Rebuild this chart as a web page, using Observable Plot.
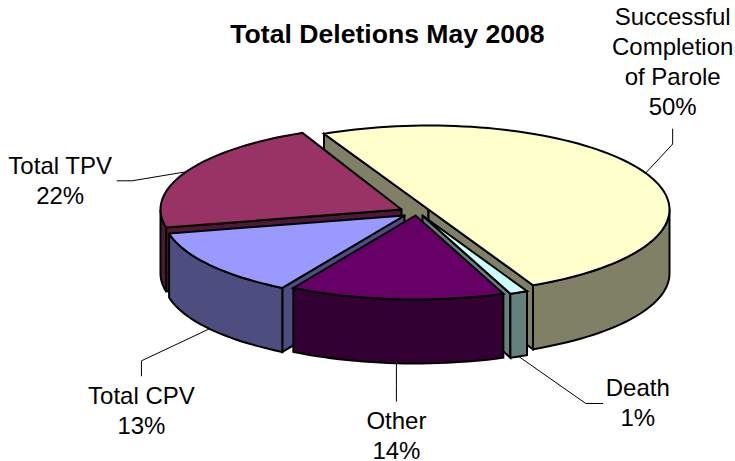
<!DOCTYPE html>
<html>
<head>
<meta charset="utf-8">
<style>html,body{margin:0;padding:0;background:#fff}svg{display:block}</style>
<script src="https://cdn.jsdelivr.net/npm/d3@7"></script>
<script src="https://cdn.jsdelivr.net/npm/@observablehq/plot@0.6"></script>
</head>
<body>
<div id="chart"></div>
<script>
// Data
const categories = ["Successful Completion of Parole", "Death", "Other", "Total CPV", "Total TPV"];
const labelLines = [["Successful", "Completion", "of Parole"], ["Death"], ["Other"], ["Total CPV"], ["Total TPV"]];
const percentLabels = ["50%", "1%", "14%", "13%", "22%"];
const sweepValues = [50, 1.2, 14.4, 13.1, 21.7];          // slice sizes
const topColors = ["#FFFFCC", "#CCFFFF", "#660066", "#9999FF", "#993366"];
const sideColors = ["#808066", "#668080", "#330033", "#4D4D80", "#4D1A33"];

// Layout of the 3-D pie
const rx = 241, ry = 84, depth = 64, startAngle = -115.7;
const apexX = [428, 422, 415, 404, 401];
const apexY = [209, 215, 215, 215, 209];
const elbow = [[27, -29], [67, 47], [0, 22], [-68, 32], [-54, 9]];
const leaderEnd = [[27, -44], [84, 47], [0, 38], [-68, 47], [-69, 9]];
const textAt = [[27, -58], [119, 69], [0, 96], [-68, 105], [-126, 32]];
const drawOrder = [0, 4, 3, 1, 2];

const rad = d => d * Math.PI / 180;
let acc = startAngle;
const slices = categories.map((name, i) => {
  const t0 = acc, t1 = acc + sweepValues[i] * 3.6;
  acc = t1;
  return {i, name, t0, t1, cx: apexX[i], cy: apexY[i]};
});
const rim = (s, t, dz = 0) => ({x: s.cx + rx * Math.cos(rad(t)), y: s.cy + ry * Math.sin(rad(t)) + dz});

const polys = [];
let pid = 0;
function addPoly(points, fill) {
  const z = pid++;
  [...points, points[0]].forEach(p => polys.push({x: p.x, y: p.y, z, fill}));
}
function arcPts(s, a, b, dz = 0) {
  const n = Math.max(2, Math.ceil(Math.abs(b - a) / 2));
  return d3.range(n + 1).map(k => rim(s, a + (b - a) * k / n, dz));
}
function radialFace(s, t, fill) {
  const a = {x: s.cx, y: s.cy}, r = rim(s, t);
  addPoly([a, r, {x: r.x, y: r.y + depth}, {x: a.x, y: a.y + depth}], fill);
}
// the circle's front half runs through angles 0..180 (mod 360)
function frontRange(s) {
  for (const off of [0, 360, -360]) {
    const a = Math.max(s.t0, off), b = Math.min(s.t1, off + 180);
    if (b > a) return [a, b];
  }
  return null;
}
for (const idx of drawOrder) {
  const s = slices[idx], side = sideColors[idx];
  if (Math.cos(rad(s.t0)) < 0) radialFace(s, s.t0, side);
  if (Math.cos(rad(s.t1)) > 0) radialFace(s, s.t1, side);
  const fr = frontRange(s);
  if (fr) addPoly([...arcPts(s, fr[0], fr[1]), ...arcPts(s, fr[1], fr[0], depth)], side);
  addPoly([{x: s.cx, y: s.cy}, ...arcPts(s, s.t0, s.t1)], topColors[idx]);
}

// Leader lines and labels start from each slice's rim point at its middle angle
const leaders = [], labels = [];
slices.forEach((s, i) => {
  const mid = (s.t0 + s.t1) / 2;
  const front = Math.sin(rad(mid)) > 0;
  const a = rim(s, mid, front ? depth : 0);
  [a, {x: a.x + elbow[i][0], y: a.y + elbow[i][1]}, {x: a.x + leaderEnd[i][0], y: a.y + leaderEnd[i][1]}]
    .forEach(p => leaders.push({x: p.x, y: p.y, z: i}));
  labels.push({
    x: a.x + textAt[i][0], y: a.y + textAt[i][1],
    text: [...labelLines[i], percentLabels[i]].join("\n")
  });
});

const font = '"Liberation Sans", Arial, sans-serif';
const chart = Plot.plot({
  width: 735, height: 461, margin: 0,
  style: {background: "#fff"},
  x: {domain: [0, 735], range: [0, 735], axis: null},
  y: {domain: [0, 461], range: [0, 461], axis: null},
  marks: [
    Plot.line(leaders, {x: "x", y: "y", z: "z", stroke: "#000", strokeWidth: 1, curve: "linear"}),
    Plot.line(polys, {
      x: "x", y: "y", z: "z",
      fill: d => d.fill, stroke: "#000", strokeWidth: 2, strokeLinejoin: "miter", strokeMiterlimit: 3, curve: "linear"
    }),
    Plot.text(labels, {
      x: "x", y: "y", text: "text", lineAnchor: "bottom", lineHeight: 30 / 24,
      fontSize: 24, fontFamily: font, fill: "#000", textAnchor: "middle"
    }),
    Plot.text(["Total Deletions May 2008"], {
      frameAnchor: "top-left", dx: 387, dy: 42, text: d => d, lineAnchor: "bottom", textAnchor: "middle",
      fontSize: 26.6, fontWeight: "bold", fontFamily: font, fill: "#000"
    })
  ],
  color: {type: "identity"}
});
document.getElementById("chart").appendChild(chart);
</script>
</body>
</html>
